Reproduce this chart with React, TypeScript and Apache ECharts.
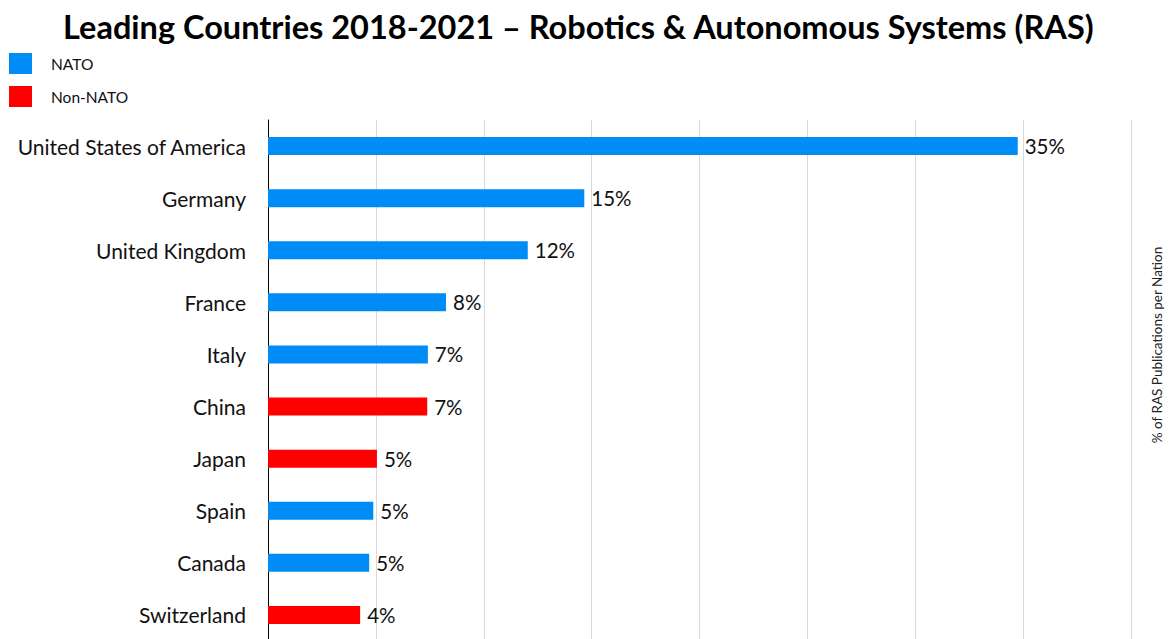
import React, { useEffect, useRef } from "react";
import * as echarts from "echarts";

const countries = [
  "United States of America",
  "Germany",
  "United Kingdom",
  "France",
  "Italy",
  "China",
  "Japan",
  "Spain",
  "Canada",
  "Switzerland",
];
const shares = [34.75, 14.66, 12.04, 8.25, 7.41, 7.38, 5.05, 4.88, 4.69, 4.27];
const isNato = [true, true, true, true, true, false, false, true, true, false];
const xTicks = [0, 5, 10, 15, 20, 25, 30, 35, 40];

const TITLE = "Leading Countries 2018-2021 – Robotics & Autonomous Systems (RAS)";
const AXIS_NAME = "% of RAS Publications per Nation";

export default function App() {
  const ref = useRef<HTMLDivElement>(null);
  useEffect(() => {
    document.body.style.margin = "0";
    const chart = echarts.init(ref.current!, undefined, { renderer: "svg" });
    const font = "Lato, 'Open Sans', sans-serif";
    const natoData = shares.map((v, i) => (isNato[i] ? v : null));
    const nonData = shares.map((v, i) => (!isNato[i] ? v : null));
    const label = {
      show: true,
      position: "right",
      distance: 7,
      fontSize: 20.5,
      fontFamily: font,
      color: "#111",
      formatter: (p: any) => Math.round(p.value) + "%",
    };
    chart.setOption({
      animation: false,
      title: {
        text: TITLE,
        left: 58,
        top: 5,
        textStyle: { fontSize: 32.5, fontWeight: "bold", fontFamily: font, color: "#000" },
      },
      legend: {
        orient: "vertical",
        left: 9,
        top: 53,
        padding: 0,
        itemWidth: 23,
        itemHeight: 21,
        itemGap: 12,
        icon: "rect",
        textStyle: { fontSize: 15.5, fontFamily: font, color: "#111", padding: [0, 0, 2, 14] },
        data: ["NATO", "Non-NATO"],
      },
      grid: { left: 268, right: 43, top: 120, height: 521, containLabel: false },
      xAxis: {
        type: "value",
        min: xTicks[0],
        max: xTicks[xTicks.length - 1],
        interval: 5,
        axisLabel: { show: false },
        axisLine: { show: false },
        axisTick: { show: false },
        splitLine: { lineStyle: { color: "#d9d9d9", width: 1 } },
      },
      yAxis: {
        type: "category",
        inverse: true,
        data: countries,
        axisLine: { show: true, lineStyle: { color: "#000", width: 1 } },
        axisTick: { show: false },
        axisLabel: { fontSize: 21, fontFamily: font, color: "#111", margin: 22 },
      },
      series: [
        {
          name: "NATO",
          type: "bar",
          data: natoData,
          barWidth: 18,
          barGap: "-100%",
          itemStyle: { color: "#008cf6" },
          label,
        },
        {
          name: "Non-NATO",
          type: "bar",
          data: nonData,
          barWidth: 18,
          itemStyle: { color: "#ff0000" },
          label,
        },
      ],
      graphic: [
        {
          type: "text",
          x: 1157,
          y: 345,
          rotation: Math.PI / 2,
          style: {
            text: AXIS_NAME,
            fontSize: 13.5,
            fontFamily: font,
            fill: "#222",
            align: "center",
            verticalAlign: "middle",
          },
        },
      ],
    });
    return () => chart.dispose();
  }, []);
  return <div ref={ref} style={{ width: 1174, height: 680 }} />;
}
